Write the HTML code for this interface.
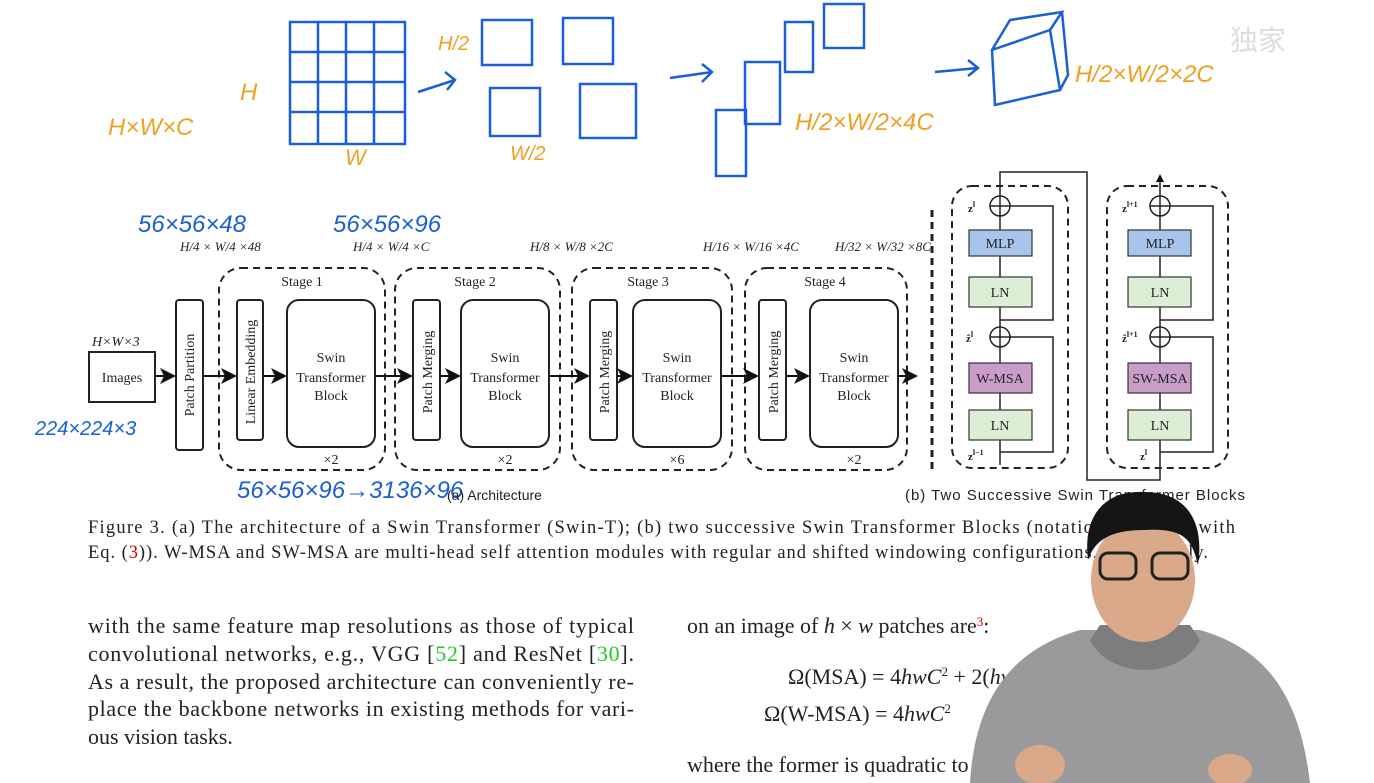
<!DOCTYPE html>
<html><head><meta charset="utf-8"><style>
html,body{margin:0;padding:0;background:#fff;}
svg{display:block}
.s{font-family:"Liberation Serif",serif;fill:#222}
.a{font-family:"Liberation Sans",sans-serif;fill:#222}
.hb{font-family:"Liberation Sans",sans-serif;fill:#1a5fd6;font-style:italic}
.ho{font-family:"Liberation Sans",sans-serif;fill:#f0a020;font-style:italic}
</style></head><body>
<svg width="1374" height="783" viewBox="0 0 1374 783" xmlns="http://www.w3.org/2000/svg">
<defs><marker id="ar" markerWidth="8" markerHeight="8" refX="7" refY="4" orient="auto"><path d="M0,0 L8,4 L0,8 L2,4z" fill="#111"/></marker></defs>
<rect width="1374" height="783" fill="#fff"/>
<g stroke="#1a5fd6" stroke-width="2.5" fill="none">
<rect x="290" y="22" width="115" height="122"/>
<line x1="290" y1="52" x2="405" y2="52"/><line x1="290" y1="82" x2="405" y2="82"/><line x1="290" y1="112" x2="405" y2="112"/>
<line x1="318" y1="22" x2="318" y2="144"/><line x1="346" y1="22" x2="346" y2="144"/><line x1="374" y1="22" x2="374" y2="144"/>
<path d="M418 92 L455 80 M445 72 L455 80 L447 90"/>
<rect x="482" y="20" width="50" height="45"/><rect x="563" y="18" width="50" height="46"/>
<rect x="490" y="88" width="50" height="48"/><rect x="580" y="84" width="56" height="54"/>
<path d="M670 78 L712 72 M702 64 L712 72 L702 82"/>
<rect x="716" y="110" width="30" height="66"/><rect x="745" y="62" width="35" height="62"/><rect x="785" y="22" width="28" height="50"/><rect x="824" y="4" width="40" height="44"/>
<path d="M935 72 L978 68 M968 60 L978 68 L968 76"/>
<path d="M992 50 L1050 30 L1060 90 L995 105z M992 50 L1010 20 L1062 12 L1050 30 M1062 12 L1068 75 L1060 90"/>
</g>
<text x="108" y="135" class="ho" font-size="24">H×W×C</text>
<text x="240" y="100" class="ho" font-size="24">H</text>
<text x="345" y="165" class="ho" font-size="22">W</text>
<text x="438" y="50" class="ho" font-size="20">H/2</text>
<text x="510" y="160" class="ho" font-size="20">W/2</text>
<text x="795" y="130" class="ho" font-size="24">H/2×W/2×4C</text>
<text x="1075" y="82" class="ho" font-size="24">H/2×W/2×2C</text>
<text x="1230" y="50" font-family="Liberation Sans" font-size="28" fill="#ddd">独家</text>
<text x="138" y="232" class="hb" font-size="24">56×56×48</text>
<text x="333" y="232" class="hb" font-size="24">56×56×96</text>
<text x="35" y="435" class="hb" font-size="20">224×224×3</text>
<text x="237" y="498" class="hb" font-size="24">56×56×96→3136×96</text>
<g class="s" font-size="13" font-style="italic">
<text x="180" y="251">H/4 × W/4 ×48</text>
<text x="353" y="251">H/4 × W/4 ×C</text>
<text x="530" y="251">H/8 × W/8 ×2C</text>
<text x="703" y="251">H/16 × W/16 ×4C</text>
<text x="835" y="251">H/32 × W/32 ×8C</text>
<text x="92" y="346" font-size="14">H×W×3</text>
</g>
<g fill="none" stroke="#222" stroke-width="2" stroke-dasharray="7,5">
<rect x="219" y="268" width="166" height="202" rx="22"/>
<rect x="395" y="268" width="165" height="202" rx="22"/>
<rect x="572" y="268" width="160" height="202" rx="22"/>
<rect x="745" y="268" width="162" height="202" rx="22"/>
<line x1="932" y1="210" x2="932" y2="470" stroke-width="3"/>
<rect x="952" y="186" width="116" height="282" rx="20"/>
<rect x="1107" y="186" width="121" height="282" rx="20"/>
</g>
<g fill="#fff" stroke="#222" stroke-width="2">
<rect x="89" y="352" width="66" height="50"/>
<rect x="176" y="300" width="27" height="150" rx="3"/>
<rect x="237" y="300" width="26" height="140" rx="3"/>
<rect x="287" y="300" width="88" height="147" rx="12"/>
<rect x="413" y="300" width="27" height="140" rx="3"/>
<rect x="461" y="300" width="88" height="147" rx="12"/>
<rect x="590" y="300" width="27" height="140" rx="3"/>
<rect x="633" y="300" width="88" height="147" rx="12"/>
<rect x="759" y="300" width="27" height="140" rx="3"/>
<rect x="810" y="300" width="88" height="147" rx="12"/>
</g>
<g stroke="#111" stroke-width="2" marker-end="url(#ar)">
<line x1="155" y1="376" x2="174" y2="376"/><line x1="203" y1="376" x2="235" y2="376"/><line x1="263" y1="376" x2="285" y2="376"/>
<line x1="375" y1="376" x2="411" y2="376"/><line x1="440" y1="376" x2="459" y2="376"/>
<line x1="549" y1="376" x2="588" y2="376"/><line x1="617" y1="376" x2="631" y2="376"/>
<line x1="721" y1="376" x2="757" y2="376"/><line x1="786" y1="376" x2="808" y2="376"/>
<line x1="898" y1="376" x2="916" y2="376"/>
</g>
<g class="s" font-size="14" text-anchor="middle">
<text x="122" y="382">Images</text>
<text x="302" y="286">Stage 1</text><text x="475" y="286">Stage 2</text><text x="648" y="286">Stage 3</text><text x="825" y="286">Stage 4</text>
<text x="331" y="362">Swin</text><text x="331" y="382">Transformer</text><text x="331" y="400">Block</text>
<text x="505" y="362">Swin</text><text x="505" y="382">Transformer</text><text x="505" y="400">Block</text>
<text x="677" y="362">Swin</text><text x="677" y="382">Transformer</text><text x="677" y="400">Block</text>
<text x="854" y="362">Swin</text><text x="854" y="382">Transformer</text><text x="854" y="400">Block</text>
<text x="331" y="464">×2</text><text x="505" y="464">×2</text><text x="677" y="464">×6</text><text x="854" y="464">×2</text>
<text transform="translate(194,375) rotate(-90)">Patch Partition</text>
<text transform="translate(255,372) rotate(-90)">Linear Embedding</text>
<text transform="translate(432,372) rotate(-90)">Patch Merging</text>
<text transform="translate(609,372) rotate(-90)">Patch Merging</text>
<text transform="translate(778,372) rotate(-90)">Patch Merging</text>
</g>
<text x="447" y="500" class="a" font-size="14">(a) Architecture</text>
<text x="905" y="500" class="a" font-size="15" textLength="340">(b) Two Successive Swin Transformer Blocks</text>
<g stroke="#222" stroke-width="1.5" fill="none">
<path d="M1000 465 L1000 440 M1000 410 L1000 393 M1000 363 L1000 347 M1000 327 L1000 307 M1000 277 L1000 256 M1000 230 L1000 216 M1000 196 L1000 172 L1087 172 L1087 480 L1160 480 L1160 440 M1160 410 L1160 393 M1160 363 L1160 347 M1160 327 L1160 307 M1160 277 L1160 256 M1160 230 L1160 216 M1160 196 L1160 178"/>
<path d="M1000 452 L1053 452 L1053 337 L1010 337 M1000 320 L1053 320 L1053 206 L1010 206"/>
<path d="M1160 452 L1213 452 L1213 337 L1170 337 M1160 320 L1213 320 L1213 206 L1170 206"/>
<circle cx="1000" cy="206" r="10"/><circle cx="1000" cy="337" r="10"/><circle cx="1160" cy="206" r="10"/><circle cx="1160" cy="337" r="10"/>
<path d="M990 206 H1010 M1000 196 V216 M990 337 H1010 M1000 327 V347 M1150 206 H1170 M1160 196 V216 M1150 337 H1170 M1160 327 V347"/>
</g>
<path d="M1156 182 L1160 174 L1164 182z" fill="#111"/>
<g stroke="#333" stroke-width="1.2">
<rect x="969" y="230" width="63" height="26" fill="#a9c4ea"/><rect x="969" y="277" width="63" height="30" fill="#dcefd6"/>
<rect x="969" y="363" width="63" height="30" fill="#c99dc8"/><rect x="969" y="410" width="63" height="30" fill="#dcefd6"/>
<rect x="1128" y="230" width="63" height="26" fill="#a9c4ea"/><rect x="1128" y="277" width="63" height="30" fill="#dcefd6"/>
<rect x="1128" y="363" width="63" height="30" fill="#c99dc8"/><rect x="1128" y="410" width="63" height="30" fill="#dcefd6"/>
</g>
<g class="s" font-size="14" text-anchor="middle">
<text x="1000" y="248">MLP</text><text x="1000" y="297">LN</text><text x="1000" y="383">W-MSA</text><text x="1000" y="430">LN</text>
<text x="1160" y="248">MLP</text><text x="1160" y="297">LN</text><text x="1160" y="383">SW-MSA</text><text x="1160" y="430">LN</text>
</g>
<g class="s" font-size="11" font-weight="bold">
<text x="968" y="212">z<tspan font-size="8" dy="-5">l</tspan></text><text x="966" y="342">ẑ<tspan font-size="8" dy="-5">l</tspan></text><text x="968" y="460">z<tspan font-size="8" dy="-5">l−1</tspan></text>
<text x="1122" y="212">z<tspan font-size="8" dy="-5">l+1</tspan></text><text x="1122" y="342">ẑ<tspan font-size="8" dy="-5">l+1</tspan></text><text x="1140" y="460">z<tspan font-size="8" dy="-5">l</tspan></text>
</g>
<g class="s" font-size="18.5" fill="#333">
<text x="88" y="533" textLength="1147" lengthAdjust="spacing">Figure 3. (a) The architecture of a Swin Transformer (Swin-T); (b) two successive Swin Transformer Blocks (notation presented with</text>
<text x="88" y="558" textLength="1120" lengthAdjust="spacing">Eq. (<tspan fill="#c00">3</tspan>)). W-MSA and SW-MSA are multi-head self attention modules with regular and shifted windowing configurations, respectively.</text>
</g>
<g class="s" font-size="22" fill="#222">
<text x="88" y="633" textLength="546" lengthAdjust="spacing">with the same feature map resolutions as those of typical</text>
<text x="88" y="661" textLength="546" lengthAdjust="spacing">convolutional networks, e.g., VGG [<tspan fill="#2c2">52</tspan>] and ResNet [<tspan fill="#2c2">30</tspan>].</text>
<text x="88" y="689" textLength="546" lengthAdjust="spacing">As a result, the proposed architecture can conveniently re-</text>
<text x="88" y="716" textLength="546" lengthAdjust="spacing">place the backbone networks in existing methods for vari-</text>
<text x="88" y="744">ous vision tasks.</text>
<text x="687" y="633">on an image of <tspan font-style="italic">h</tspan> × <tspan font-style="italic">w</tspan> patches are<tspan fill="#c00" font-size="13" dy="-7">3</tspan><tspan dy="7">:</tspan></text>
<text x="788" y="684">Ω(MSA) = 4<tspan font-style="italic">hwC</tspan><tspan font-size="13" dy="-8">2</tspan><tspan dy="8"> + 2(</tspan><tspan font-style="italic">hw</tspan>)</text>
<text x="764" y="721">Ω(W-MSA) = 4<tspan font-style="italic">hwC</tspan><tspan font-size="13" dy="-8">2</tspan></text>
<text x="687" y="772">where the former is quadratic to</text>
</g>
<path d="M970 783 C975 700 1010 650 1080 630 L1200 630 C1270 650 1300 700 1310 783z" fill="#9a9a9c"/>
<path d="M1090 640 C1110 680 1180 680 1200 640 L1190 625 L1100 625z" fill="#7d7d80"/>
<ellipse cx="1143" cy="580" rx="52" ry="62" fill="#d9a98a"/>
<path d="M1088 560 C1082 510 1110 490 1145 492 C1185 492 1205 520 1198 565 C1192 540 1185 528 1145 530 C1110 530 1095 540 1088 560z" fill="#151515"/>
<g fill="none" stroke="#222" stroke-width="3"><rect x="1100" y="553" width="36" height="26" rx="8"/><rect x="1152" y="553" width="36" height="26" rx="8"/></g>
<ellipse cx="1040" cy="765" rx="25" ry="20" fill="#d9a98a"/><ellipse cx="1230" cy="770" rx="22" ry="16" fill="#d9a98a"/>
</svg>
</body></html>
